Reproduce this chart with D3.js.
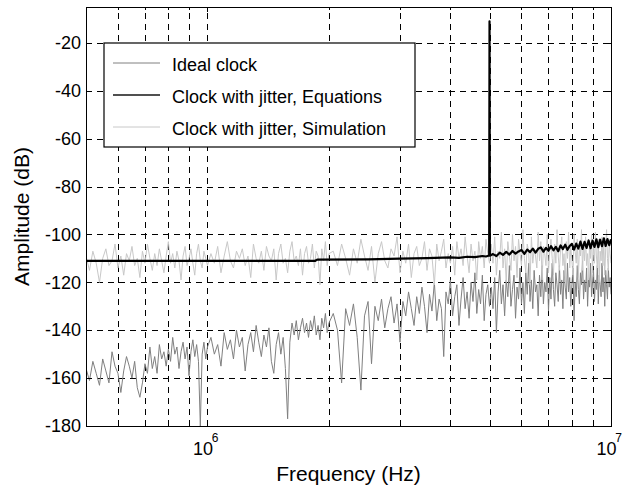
<!DOCTYPE html>
<html>
    <head>
        <meta charset="UTF-8" />
        <title>Clock spectrum</title>
        <script src="https://cdn.jsdelivr.net/npm/d3@7"></script>
        <style>
            body { margin: 0; background: #fff; }
            svg { display: block; font-family: "Liberation Sans", Arial, sans-serif; }
        </style>
    </head>
    <body>
        <svg id="chart" width="624" height="493"></svg>
        <script>
            // frequency bins (kHz) shared by the ideal and simulated spectra
            var freqKHz = [
                500,510,520,530,540,550,560,570,580,590,600,610,620,630,640,650,660,670,680,690,
                700,710,720,730,740,750,760,770,780,790,800,810,820,830,840,850,860,870,880,890,
                900,910,920,930,940,950,960,970,980,990,1000,
                1020,1040,1060,1080,1100,1120,1140,1160,1180,1200,1220,1240,1260,1280,1300,1320,1340,1360,1380,1400,
                1420,1440,1460,1480,1500,1520,1540,1560,1580,1600,1620,1640,1660,1680,1700,1720,1740,1760,1780,1800,
                1820,1840,1860,1880,1900,1920,1940,1960,1980,2000,
                2050,2100,2150,2200,2250,2300,2350,2400,2450,2500,2550,2600,2650,2700,2750,2800,2850,2900,2950,3000,
                3050,3100,3150,3200,3250,3300,3350,3400,3450,3500,3550,3600,3650,3700,3750,3800,3850,3900,3950,4000,
                4050,4100,4150,4200,4250,4300,4350,4400,4450,4500,4550,4600,4650,4700,4750,4800,4850,4900,4950,5000,
                5050,5100,5150,5200,5250,5300,5350,5400,5450,5500,5550,5600,5650,5700,5750,5800,5850,5900,5950,6000,
                6050,6100,6150,6200,6250,6300,6350,6400,6450,6500,6550,6600,6650,6700,6750,6800,6850,6900,6950,7000,
                7050,7100,7150,7200,7250,7300,7350,7400,7450,7500,7550,7600,7650,7700,7750,7800,7850,7900,7950,8000,
                8050,8100,8150,8200,8250,8300,8350,8400,8450,8500,8550,8600,8650,8700,8750,8800,8850,8900,8950,9000,
                9050,9100,9150,9200,9250,9300,9350,9400,9450,9500,9550,9600,9650,9700,9750,9800,9850,9900,9950,10000
            ]

            // Ideal clock (dB)
            var idealDb = [
                -156,-161,-153,-158,-163,-152,-157,-162,-149,-155,-158,-166,-157,-151,-155,-160,-153,-164,-168,-162,
                -154,-158,-147,-156,-151,-158,-146,-152,-149,-155,-148,-153,-143,-150,-147,-156,-149,-145,-152,-147,
                -159,-149,-144,-151,-146,-153,-180,-150,-145,-152,-147,
                -143,-150,-146,-155,-141,-148,-144,-152,-140,-147,-143,-157,-146,-141,-149,-138,-145,-151,-142,-147,
                -139,-153,-158,-146,-141,-150,-143,-156,-177,-145,-137,-142,-136,-144,-139,-135,-141,-137,-143,-136,
                -140,-134,-142,-138,-144,-135,-139,-133,-141,-137,
                -133,-140,-162,-131,-138,-129,-143,-165,-134,-128,-154,-130,-136,-127,-139,-131,-126,-137,-129,-145,
                -128,-134,-124,-131,-138,-126,-133,-122,-130,-141,-125,-132,-120,-136,-127,-131,-151,-124,-129,-119,
                -134,-126,-121,-138,-127,-118,-131,-124,-135,-120,-128,-116,-133,-123,-129,-117,-136,-125,-121,-130,
                -122,-131,-118,-141,-124,-115,-129,-121,-134,-119,-126,-113,-130,-123,-117,-135,-122,-127,-114,-129,
                -120,-133,-116,-125,-112,-128,-119,-131,-115,-124,-121,-134,-117,-126,-113,-129,-120,-124,-114,-132,
                -118,-127,-112,-123,-130,-116,-121,-128,-113,-125,-119,-131,-115,-122,-127,-112,-124,-118,-130,-121,
                -114,-136,-120,-126,-113,-123,-129,-116,-121,-111,-127,-119,-124,-114,-130,-118,-122,-112,-126,-120,
                -115,-128,-119,-123,-113,-129,-117,-121,-126,-112,-124,-118,-130,-115,-121,-127,-114,-122,-118,-125
            ]

            // Clock with jitter, Simulation (dB)
            var simDb = [
                -109,-115,-107,-112,-120,-110,-106,-113,-111,-104,-114,-109,-117,-108,-111,-105,-113,-110,-118,-107,
                -112,-104,-110,-115,-108,-113,-106,-111,-116,-109,-103,-112,-108,-114,-107,-111,-119,-109,-105,-113,
                -110,-106,-112,-117,-108,-104,-111,-114,-107,-110,-113,
                -108,-112,-105,-116,-109,-103,-111,-114,-107,-110,-106,-113,-109,-118,-104,-110,-112,-107,-115,-105,
                -109,-111,-106,-119,-108,-104,-112,-110,-116,-107,-103,-111,-109,-113,-106,-117,-108,-105,-112,-110,
                -104,-114,-107,-109,-121,-106,-111,-103,-113,-108,
                -107,-113,-104,-110,-117,-106,-112,-102,-109,-115,-105,-120,-108,-103,-111,-114,-106,-109,-101,-116,
                -107,-112,-104,-118,-108,-105,-113,-110,-103,-115,-106,-109,-121,-104,-111,-107,-102,-114,-108,-112,
                -105,-117,-103,-110,-106,-113,-101,-109,-116,-104,-111,-107,-119,-103,-110,-105,-114,-102,-108,-112,
                -104,-112,-101,-117,-107,-110,-99,-114,-106,-120,-103,-109,-115,-100,-111,-105,-118,-102,-108,-113,
                -98,-110,-116,-104,-107,-121,-101,-112,-106,-109,-114,-99,-111,-103,-119,-105,-108,-113,-100,-116,
                -107,-102,-110,-117,-104,-112,-98,-109,-115,-106,-101,-113,-108,-120,-103,-110,-99,-114,-105,-111,
                -117,-100,-107,-112,-102,-118,-106,-109,-98,-115,-104,-111,-101,-113,-108,-119,-103,-110,-100,-116,
                -105,-112,-99,-109,-114,-102,-120,-107,-111,-101,-113,-104,-117,-106,-98,-110,-115,-103,-108,-112
            ]

            // Clock with jitter, Equations (own frequency points, kHz / dB)
            var eqFreqKHz = [
                500,1000,1500,1850,1870,2500,3000,3500,4000,4200,4400,4600,4800,4900,4990,5000,5010,
                5100,5200,5300,5400,5500,5600,5700,5800,5900,6000,6100,6200,6300,6400,6500,6600,6700,6800,6900,7000,
                7100,7200,7300,7400,7500,7600,7700,7800,7900,8000,8100,8200,8300,8400,8500,8600,8700,8800,8900,9000,
                9100,9200,9300,9400,9500,9600,9700,9800,9900,10000
            ]
            var eqDb = [
                -111,-111,-111,-111,-110.5,-110.4,-110.1,-109.9,-109.6,-109.8,-109.3,-109.5,-109,-109.2,-108.8,-11,-108.9,
                -108.2,-109.0,-107.6,-108.5,-107.3,-108.4,-106.9,-108.0,-107.1,-106.5,-108.1,-106.3,-107.4,-105.9,-107.6,-106.0,-105.4,-107.2,-105.6,-106.8,
                -104.9,-106.6,-105.2,-107.0,-104.6,-106.1,-104.3,-106.4,-104.8,-103.9,-106.3,-103.8,-105.9,-103.0,-106.0,-103.1,-105.6,-102.5,-105.7,-102.6,
                -105.2,-102.0,-105.3,-102.2,-104.9,-101.6,-104.8,-101.9,-104.5,-102.0
            ]

            var yTicks = [-180, -160, -140, -120, -100, -80, -60, -40, -20]
            var xMajor = [1e6, 1e7]
            var xMajorExp = ["6", "7"]
            var xMinor = [6e5, 7e5, 8e5, 9e5, 2e6, 3e6, 4e6, 5e6, 6e6, 7e6, 8e6, 9e6]
            var legendLabels = ["Ideal clock", "Clock with jitter, Equations", "Clock with jitter, Simulation"]
            var legendColors = ["#808080", "#505050", "#c8c8c8"]
            var legendWidths = [1, 2, 1]

            var plotL = 86, plotR = 611, plotT = 7, plotB = 426
            var svg = d3.select("#chart")

            var xScale = d3.scaleLog().domain([5e5, 1e7]).range([plotL, plotR])
            var yScale = d3.scaleLinear().domain([-180, -5]).range([plotB, plotT])

            svg.append("rect")
                .attr("x", 0).attr("y", 0).attr("width", 624).attr("height", 493)
                .attr("fill", "#fff")

            svg.append("defs").append("clipPath").attr("id", "plotClip")
                .append("rect")
                .attr("x", plotL).attr("y", plotT)
                .attr("width", plotR - plotL).attr("height", plotB - plotT)

            // dashed grid
            svg.append("g").attr("class", "grid")
                .attr("transform", "translate(0," + plotB + ")")
                .call(d3.axisBottom(xScale).tickValues(xMajor.concat(xMinor)).tickSize(-(plotB - plotT)).tickFormat(""))
            svg.append("g").attr("class", "grid")
                .attr("transform", "translate(" + plotL + ",0)")
                .call(d3.axisLeft(yScale).tickValues(yTicks).tickSize(-(plotR - plotL)).tickFormat(""))
            svg.selectAll(".grid .domain").remove()
            svg.selectAll(".grid line")
                .attr("stroke", "#000")
                .attr("stroke-width", 1)
                .attr("stroke-dasharray", "6,5")
                .attr("shape-rendering", "crispEdges")

            // data
            var plot = svg.append("g").attr("clip-path", "url(#plotClip)")

            var specLine = d3.line()
                .x((d, i) => xScale(freqKHz[i] * 1000))
                .y(d => yScale(d))

            plot.append("path")
                .attr("d", specLine(idealDb))
                .attr("fill", "none")
                .attr("stroke", "#808080")
                .attr("stroke-width", 1)

            plot.append("path")
                .attr("d", specLine(simDb))
                .attr("fill", "none")
                .attr("stroke", "#c8c8c8")
                .attr("stroke-width", 1)

            var eqLine = d3.line()
                .x((d, i) => xScale(eqFreqKHz[i] * 1000))
                .y(d => yScale(d))

            plot.append("path")
                .attr("d", eqLine(eqDb))
                .attr("fill", "none")
                .attr("stroke", "#000")
                .attr("stroke-width", 2.2)
                .attr("stroke-linejoin", "round")

            // axes with inward ticks (all four sides)
            var axisG = svg.append("g").attr("class", "axes")
            axisG.append("g")
                .attr("transform", "translate(" + plotL + ",0)")
                .call(d3.axisLeft(yScale).tickValues(yTicks).tickSizeInner(-5).tickSizeOuter(0).tickPadding(5)
                    .tickFormat(d => String(d)))
            axisG.append("g")
                .attr("transform", "translate(" + plotR + ",0)")
                .call(d3.axisRight(yScale).tickValues(yTicks).tickSizeInner(-5).tickSizeOuter(0).tickFormat(""))
            var xAxisG = axisG.append("g")
                .attr("transform", "translate(0," + plotB + ")")
                .call(d3.axisBottom(xScale).tickValues(xMajor).tickSizeInner(-5).tickSizeOuter(0).tickFormat(d => "10"))
            axisG.append("g")
                .attr("transform", "translate(0," + plotB + ")")
                .call(d3.axisBottom(xScale).tickValues(xMinor).tickSizeInner(-3).tickSizeOuter(0).tickFormat(""))
            axisG.append("g")
                .attr("transform", "translate(0," + plotT + ")")
                .call(d3.axisTop(xScale).tickValues(xMajor).tickSizeInner(-5).tickSizeOuter(0).tickFormat(""))
            axisG.append("g")
                .attr("transform", "translate(0," + plotT + ")")
                .call(d3.axisTop(xScale).tickValues(xMinor).tickSizeInner(-3).tickSizeOuter(0).tickFormat(""))

            axisG.selectAll(".domain").remove()
            axisG.selectAll("line").attr("stroke", "#000").attr("shape-rendering", "crispEdges")
            axisG.selectAll("text")
                .attr("font-family", "'Liberation Sans', Arial, sans-serif")
                .attr("font-size", 18)
                .attr("fill", "#000")

            xAxisG.selectAll(".tick text")
                .attr("text-anchor", "end")
                .attr("x", 5)
                .attr("y", 29)
                .attr("dy", 0)
            xAxisG.selectAll(".tick")
                .append("text")
                .attr("x", 7)
                .attr("y", 16)
                .attr("font-family", "'Liberation Sans', Arial, sans-serif")
                .attr("font-size", 12)
                .attr("fill", "#000")
                .text((d, i) => xMajorExp[i])

            // box
            svg.append("rect")
                .attr("x", plotL).attr("y", plotT)
                .attr("width", plotR - plotL).attr("height", plotB - plotT)
                .attr("fill", "none")
                .attr("stroke", "#000")
                .attr("stroke-width", 1)
                .attr("shape-rendering", "crispEdges")

            // axis titles
            svg.append("text")
                .attr("x", (plotL + plotR) / 2)
                .attr("y", 481)
                .attr("text-anchor", "middle")
                .attr("font-size", 21)
                .text("Frequency (Hz)")

            svg.append("text")
                .attr("transform", "translate(29," + ((plotT + plotB) / 2) + ") rotate(-90)")
                .attr("text-anchor", "middle")
                .attr("font-size", 21)
                .text("Amplitude (dB)")

            // legend
            var legend = svg.append("g").attr("transform", "translate(104,43)")
            legend.append("rect")
                .attr("width", 311).attr("height", 104)
                .attr("fill", "#fff")
                .attr("stroke", "#000")
                .attr("stroke-width", 1.2)

            var items = legend.selectAll("g.item")
                .data(legendLabels)
                .enter()
                .append("g")
                .attr("class", "item")
                .attr("transform", (d, i) => "translate(0," + (20 + i * 32) + ")")

            items.append("line")
                .attr("x1", 9).attr("x2", 56)
                .attr("y1", 0).attr("y2", 0)
                .attr("stroke", (d, i) => legendColors[i])
                .attr("stroke-width", (d, i) => legendWidths[i])

            items.append("text")
                .attr("x", 68)
                .attr("y", 8)
                .attr("font-size", 18)
                .text(d => d)
        </script>
    </body>
</html>
